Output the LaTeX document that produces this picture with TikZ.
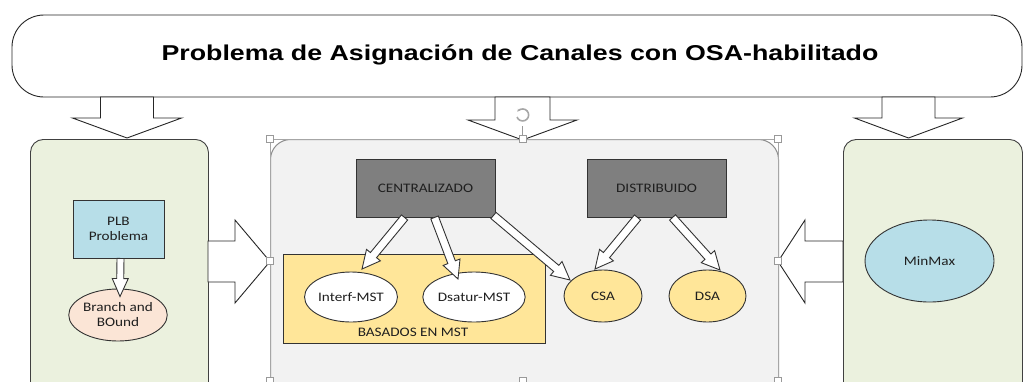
\documentclass[tikz,border=0pt]{standalone}
\usepackage{graphicx}
\usepackage{fontspec}
\setmainfont{Carlito}
\newfontfamily\titlefont{Liberation Sans}
\usetikzlibrary{calc,shapes.geometric,arrows.meta}
\definecolor{greenfill}{HTML}{EBF1DE}
\definecolor{panelfill}{HTML}{F2F2F2}
\definecolor{bluefill}{HTML}{B7DEE8}
\definecolor{peachfill}{HTML}{FBE5D6}
\definecolor{darkbox}{HTML}{7F7F7F}
\definecolor{yellowfill}{HTML}{FFE699}
\definecolor{txt}{HTML}{1F1F1F}
\newcommand{\sx}[1]{\scalebox{1.17}[1]{#1}}
\newcommand{\blockarrow}[6][]{%
  \coordinate (bahead) at ($(#3)!#6!(#2)$);
  \draw[bigarrow,#1] ($(#2)!#4!90:(#3)$) -- ($(bahead)!#4!90:(#3)$) -- ($(bahead)!#5!90:(#3)$) -- (#3)
     -- ($(bahead)!#5!-90:(#3)$) -- ($(bahead)!#4!-90:(#3)$) -- ($(#2)!#4!-90:(#3)$) -- cycle;
}
\tikzset{
  bigarrow/.style={draw=black!85, fill=white, line width=0.9pt, line join=miter},
  smallarrow/.style={draw=black!80, fill=white, line width=0.9pt, line join=miter},
  greenbox/.style={draw=black!75, fill=greenfill, rounded corners=13, line width=0.9pt, anchor=north west},
  rectbox/.style={draw=black!80, line width=0.9pt, inner sep=0pt, align=center, text=txt, font=\fontsize{13}{15}\selectfont},
  ellbox/.style={ellipse, draw=black!80, line width=0.9pt, inner sep=0pt, align=center, text=txt, font=\fontsize{13}{15}\selectfont},
  handle/.style={draw=black!40, fill=white, line width=0.6pt, minimum size=7, inner sep=0pt}
}
\begin{document}
\begin{tikzpicture}[x=1pt,y=-1pt]
\useasboundingbox (0,0) rectangle (1028,381);
\clip (0,0) rectangle (1028,381);
\fill[white] (0,0) rectangle (1028,381);
% banner
\node[draw=black!85, line width=0.9pt, rounded corners=32, minimum width=1010, minimum height=82, inner sep=0pt,
      font=\titlefont\bfseries\fontsize{21.5}{24}\selectfont] (banner) at (517,56) {};
\node[font=\titlefont\bfseries\fontsize{21.5}{24}\selectfont, inner sep=0pt] (title) at (520,55) {\scalebox{1.245}[1]{Problema de Asignación de Canales con OSA-habilitado}};
% side and middle panels
\node[greenbox, minimum width=178, minimum height=262] (lbox) at (30,139) {};
\node[greenbox, minimum width=179, minimum height=262] (rbox) at (843,139) {};
\node[draw=black!45, fill=panelfill, rounded corners=20, line width=1pt, anchor=north west, minimum width=508, minimum height=262] (mbox) at (270,139) {};
\draw[black!35, line width=0.6pt] (270,139) -- (270,395) (778,139) -- (778,395) (270,139) -- (778,139);
% top arrows
\coordinate (t1s) at (127,97);  \coordinate (t1e) at (127,138);
\coordinate (t2s) at (522.5,97); \coordinate (t2e) at (522.5,140);
\coordinate (t3s) at (908.5,97); \coordinate (t3e) at (908.5,138);
\blockarrow{t1s}{t1e}{26.5pt}{54.5pt}{20pt}
\blockarrow{t2s}{t2e}{27.5pt}{54.5pt}{20pt}
\blockarrow{t3s}{t3e}{26.5pt}{54pt}{20pt}
% side arrows
\coordinate (s1s) at (208,261.5); \coordinate (s1e) at (270,261.5);
\coordinate (s2s) at (843,261.5); \coordinate (s2e) at (778,261.5);
\blockarrow{s1s}{s1e}{20.5pt}{41.5pt}{35pt}
\blockarrow{s2s}{s2e}{20.5pt}{41.5pt}{27pt}
% left panel content
\node[rectbox, fill=bluefill, minimum width=91, minimum height=58] (plb) at (118.5,229) {\sx{PLB}\\\sx{Problema}};
\node[ellbox, fill=peachfill, minimum width=90, minimum height=52] (bb) at (118,315) {\sx{Branch and}\\\sx{BOund}};
\coordinate (p1s) at ($(plb.south)+(2,0)$);
\coordinate (p1e) at ($(bb.north)+(2,8)$);
\blockarrow[smallarrow]{p1s}{p1e}{3.5pt}{8pt}{18pt}
% right panel
\node[ellbox, fill=bluefill, minimum width=129, minimum height=82] (minmax) at (929.5,261) {\sx{MinMax}};
% middle content
\node[rectbox, fill=darkbox, minimum width=139, minimum height=58] (cen) at (425.5,188) {\sx{CENTRALIZADO}};
\node[rectbox, fill=darkbox, minimum width=139, minimum height=58] (dist) at (656.5,188) {\sx{DISTRIBUIDO}};
\node[rectbox, fill=yellowfill, minimum width=262, minimum height=89] (mst) at (414,298.5) {};
\node[text=txt, font=\fontsize{13}{15}\selectfont, inner sep=0pt] (mstlbl) at (413,332) {\sx{BASADOS EN MST}};
\node[ellbox, fill=white, minimum width=91, minimum height=50] (imst) at (351,297) {\sx{Interf-MST}};
\node[ellbox, fill=white, minimum width=92, minimum height=50] (dmst) at (474,297) {\sx{Dsatur-MST}};
\node[ellbox, fill=yellowfill, minimum width=78, minimum height=52] (csa) at (603,296) {\sx{CSA}};
\node[ellbox, fill=yellowfill, minimum width=77, minimum height=52] (dsa) at (707.5,296) {\sx{DSA}};
% inner arrows
\coordinate (a1s) at ($(cen.south west)+(49,0)$);  \coordinate (a1e) at ($(imst.center)+(11,-28)$);
\coordinate (a2s) at ($(cen.south west)+(79,0)$);  \coordinate (a2e) at ($(dmst.center)+(-16,-18)$);
\coordinate (a3s) at ($(cen.south east)+(-2,-2)$); \coordinate (a3e) at ($(csa.center)+(-33,-16)$);
\coordinate (a4s) at ($(dist.south west)+(51,0)$); \coordinate (a4e) at ($(csa.center)+(-8,-27)$);
\coordinate (a5s) at ($(dist.south west)+(86,0)$); \coordinate (a5e) at ($(dsa.center)+(12.5,-26)$);
\blockarrow[smallarrow]{a1s}{a1e}{4pt}{9pt}{18pt}
\blockarrow[smallarrow]{a2s}{a2e}{4pt}{9pt}{18pt}
\blockarrow[smallarrow]{a3s}{a3e}{4pt}{9pt}{18pt}
\blockarrow[smallarrow]{a4s}{a4e}{4pt}{9pt}{18pt}
\blockarrow[smallarrow]{a5s}{a5e}{4pt}{9pt}{18pt}
% selection handles
\draw[black!40, line width=0.6pt] (522.5,126) -- (522.5,139);
\draw[black!35, line width=1.6pt, -{Stealth[length=3pt]}] (517,117) arc[start angle=160, end angle=-150, radius=6];
\foreach \n/\p in {h1/{(270,139)}, h2/{(522.5,139)}, h3/{(778,139)}, h4/{(270,261)}, h5/{(778,261)}, h6/{(522.5,381)}, h7/{(270,381)}, h8/{(778,381)}}
  \node[handle] (\n) at \p {};
\end{tikzpicture}
\end{document}
